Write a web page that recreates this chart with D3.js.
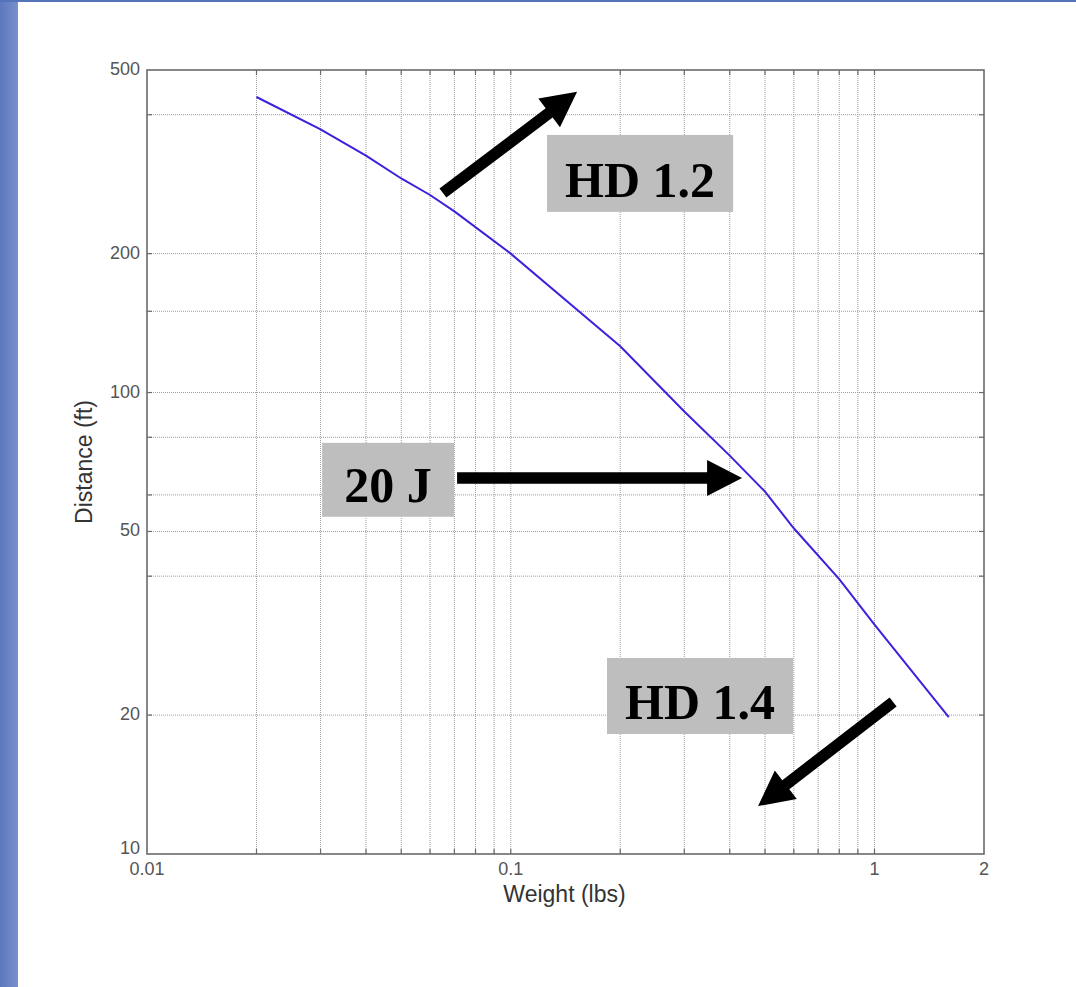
<!DOCTYPE html>
<html>
<head>
<meta charset="utf-8">
<script src="https://cdn.jsdelivr.net/npm/d3@7"></script>
<style>
  html, body { margin: 0; padding: 0; background: #ffffff; }
  svg { display: block; }
</style>
</head>
<body>
<svg id="chart" width="1076" height="987"></svg>
<script>
// ---- data ----
const weights   = [0.02, 0.03, 0.04, 0.05, 0.06, 0.07, 0.1, 0.2, 0.3, 0.4, 0.5, 0.6, 0.8, 1.0, 1.6];
const distances = [437, 372, 326, 291, 268, 247, 200, 126, 91, 73, 61, 50.8, 39.4, 31.4, 19.8];

const xTickValues = [0.01, 0.1, 1, 2];
const xTickLabels = ["0.01", "0.1", "1", "2"];
const yTickValues = [10, 20, 50, 100, 200, 500];
const yTickLabels = ["10", "20", "50", "100", "200", "500"];
const xGridValues = [0.02, 0.03, 0.04, 0.05, 0.06, 0.07, 0.08, 0.09, 0.1,
                     0.2, 0.3, 0.4, 0.5, 0.6, 0.7, 0.8, 0.9, 1];
const yGridValues = [20, 40, 50, 60, 80, 100, 150, 200, 400];

const xTitle = "Weight (lbs)";
const yTitle = "Distance (ft)";

// annotations (in data coordinates)
const boxLabels = ["HD 1.2", "20 J", "HD 1.4"];
const boxX0 = [0.1258, 0.0303, 0.1839];
const boxX1 = [0.4086, 0.0698, 0.5973];
const boxY0 = [361.6, 77.8, 26.6];
const boxY1 = [246.3, 53.8, 18.2];
const arrowTailW = [0.0651, 0.0712, 1.125];
const arrowTailD = [270.7, 65.3, 21.35];
const arrowTipW  = [0.1522, 0.4325, 0.4786];
const arrowTipD  = [448.3, 65.3, 12.7];

// ---- layout ----
const W = 1076, H = 987;
const plot = { left: 147, right: 984, top: 70, bottom: 854 };

const svg = d3.select("#chart");

// page decoration: blue left strip and thin top line
const defs = svg.append("defs");
const grad = defs.append("linearGradient").attr("id", "strip").attr("x1", "0").attr("x2", "1");
grad.append("stop").attr("offset", "0").attr("stop-color", "#5c78bd");
grad.append("stop").attr("offset", "1").attr("stop-color", "#7890cc");
svg.append("rect").attr("x", 0).attr("y", 0).attr("width", W).attr("height", H).attr("fill", "#ffffff");
svg.append("rect").attr("x", 0).attr("y", 0).attr("width", 18).attr("height", H).attr("fill", "url(#strip)");
svg.append("rect").attr("x", 0).attr("y", 0).attr("width", W).attr("height", 2).attr("fill", "#5573b8");

const x = d3.scaleLog().domain([0.01, 2]).range([plot.left, plot.right]);
const y = d3.scaleLog().domain([10, 500]).range([plot.bottom, plot.top]);

const g = svg.append("g");

// grid
g.append("g").selectAll("line").data(xGridValues).join("line")
  .attr("x1", d => x(d)).attr("x2", d => x(d))
  .attr("y1", plot.top).attr("y2", plot.bottom)
  .attr("stroke", "#9c9c9c").attr("stroke-width", 1).attr("stroke-dasharray", "1,1");
g.append("g").selectAll("line").data(yGridValues).join("line")
  .attr("y1", d => y(d)).attr("y2", d => y(d))
  .attr("x1", plot.left).attr("x2", plot.right)
  .attr("stroke", "#9c9c9c").attr("stroke-width", 1).attr("stroke-dasharray", "1,1");

// inward ticks
const tickLen = 5;
const tk = g.append("g").attr("stroke", "#6a6a6a").attr("stroke-width", 1.2);
tk.selectAll(".xb").data(xGridValues).join("line")
  .attr("x1", d => x(d)).attr("x2", d => x(d)).attr("y1", plot.bottom).attr("y2", plot.bottom - tickLen);
tk.selectAll(".xt").data(xGridValues).join("line")
  .attr("x1", d => x(d)).attr("x2", d => x(d)).attr("y1", plot.top).attr("y2", plot.top + tickLen);
tk.selectAll(".yl").data(yGridValues).join("line")
  .attr("y1", d => y(d)).attr("y2", d => y(d)).attr("x1", plot.left).attr("x2", plot.left + tickLen);
tk.selectAll(".yr").data(yGridValues).join("line")
  .attr("y1", d => y(d)).attr("y2", d => y(d)).attr("x1", plot.right).attr("x2", plot.right - tickLen);

// frame
g.append("rect")
  .attr("x", plot.left).attr("y", plot.top)
  .attr("width", plot.right - plot.left).attr("height", plot.bottom - plot.top)
  .attr("fill", "none").attr("stroke", "#6a6a6a").attr("stroke-width", 1.6);

// tick labels
const tickFont = "'Liberation Sans', Arial, Helvetica, sans-serif";
g.append("g").selectAll("text").data(xTickValues).join("text")
  .attr("x", d => x(d)).attr("y", plot.bottom + 21)
  .attr("text-anchor", "middle")
  .attr("font-family", tickFont).attr("font-size", 18).attr("fill", "#555")
  .text((d, i) => xTickLabels[i]);
g.append("g").selectAll("text").data(yTickValues).join("text")
  .attr("x", plot.left - 7)
  .attr("y", (d, i) => y(d) + (i === 0 ? 0 : 5))
  .attr("text-anchor", "end")
  .attr("font-family", tickFont).attr("font-size", 18).attr("fill", "#555")
  .text((d, i) => yTickLabels[i]);

// axis titles
g.append("text")
  .attr("x", (plot.left + plot.right) / 2 - 1).attr("y", 902)
  .attr("text-anchor", "middle")
  .attr("font-family", tickFont).attr("font-size", 23).attr("fill", "#333")
  .text(xTitle);
g.append("text")
  .attr("transform", `translate(92, ${(plot.top + plot.bottom) / 2}) rotate(-90)`)
  .attr("text-anchor", "middle")
  .attr("font-family", tickFont).attr("font-size", 23).attr("fill", "#333")
  .text(yTitle);

// data line
const line = d3.line().x((d, i) => x(weights[i])).y((d, i) => y(distances[i]));
g.append("path")
  .datum(weights)
  .attr("d", line)
  .attr("fill", "none")
  .attr("stroke", "#3b22dc")
  .attr("stroke-width", 2);

// annotation boxes
const ann = svg.append("g");
boxLabels.forEach((lab, i) => {
  const bx0 = x(boxX0[i]), bx1 = x(boxX1[i]);
  const by0 = y(boxY0[i]), by1 = y(boxY1[i]);
  ann.append("rect")
    .attr("x", bx0).attr("y", by0)
    .attr("width", bx1 - bx0).attr("height", by1 - by0)
    .attr("fill", "#bebebe");
  ann.append("text")
    .attr("x", (bx0 + bx1) / 2).attr("y", by1 - 15)
    .attr("text-anchor", "middle")
    .attr("font-family", "'Liberation Serif', 'Times New Roman', serif")
    .attr("font-weight", "bold")
    .attr("font-size", 50)
    .attr("fill", "#000")
    .text(lab);
});

// arrows
function arrowPath(x1, y1, x2, y2, sw, hl, hw) {
  const dx = x2 - x1, dy = y2 - y1;
  const len = Math.hypot(dx, dy);
  const ux = dx / len, uy = dy / len;
  const nx = -uy, ny = ux;
  const bx = x2 - ux * hl, by = y2 - uy * hl;
  const pts = [
    [x1 + nx * sw / 2, y1 + ny * sw / 2],
    [bx + nx * sw / 2, by + ny * sw / 2],
    [bx + nx * hw / 2, by + ny * hw / 2],
    [x2, y2],
    [bx - nx * hw / 2, by - ny * hw / 2],
    [bx - nx * sw / 2, by - ny * sw / 2],
    [x1 - nx * sw / 2, y1 - ny * sw / 2]
  ];
  return "M" + pts.map(p => p.join(",")).join("L") + "Z";
}
arrowTailW.forEach((tw, i) => {
  ann.append("path")
    .attr("d", arrowPath(x(tw), y(arrowTailD[i]), x(arrowTipW[i]), y(arrowTipD[i]), 11.5, 35, 36))
    .attr("fill", "#000");
});
</script>
</body>
</html>
